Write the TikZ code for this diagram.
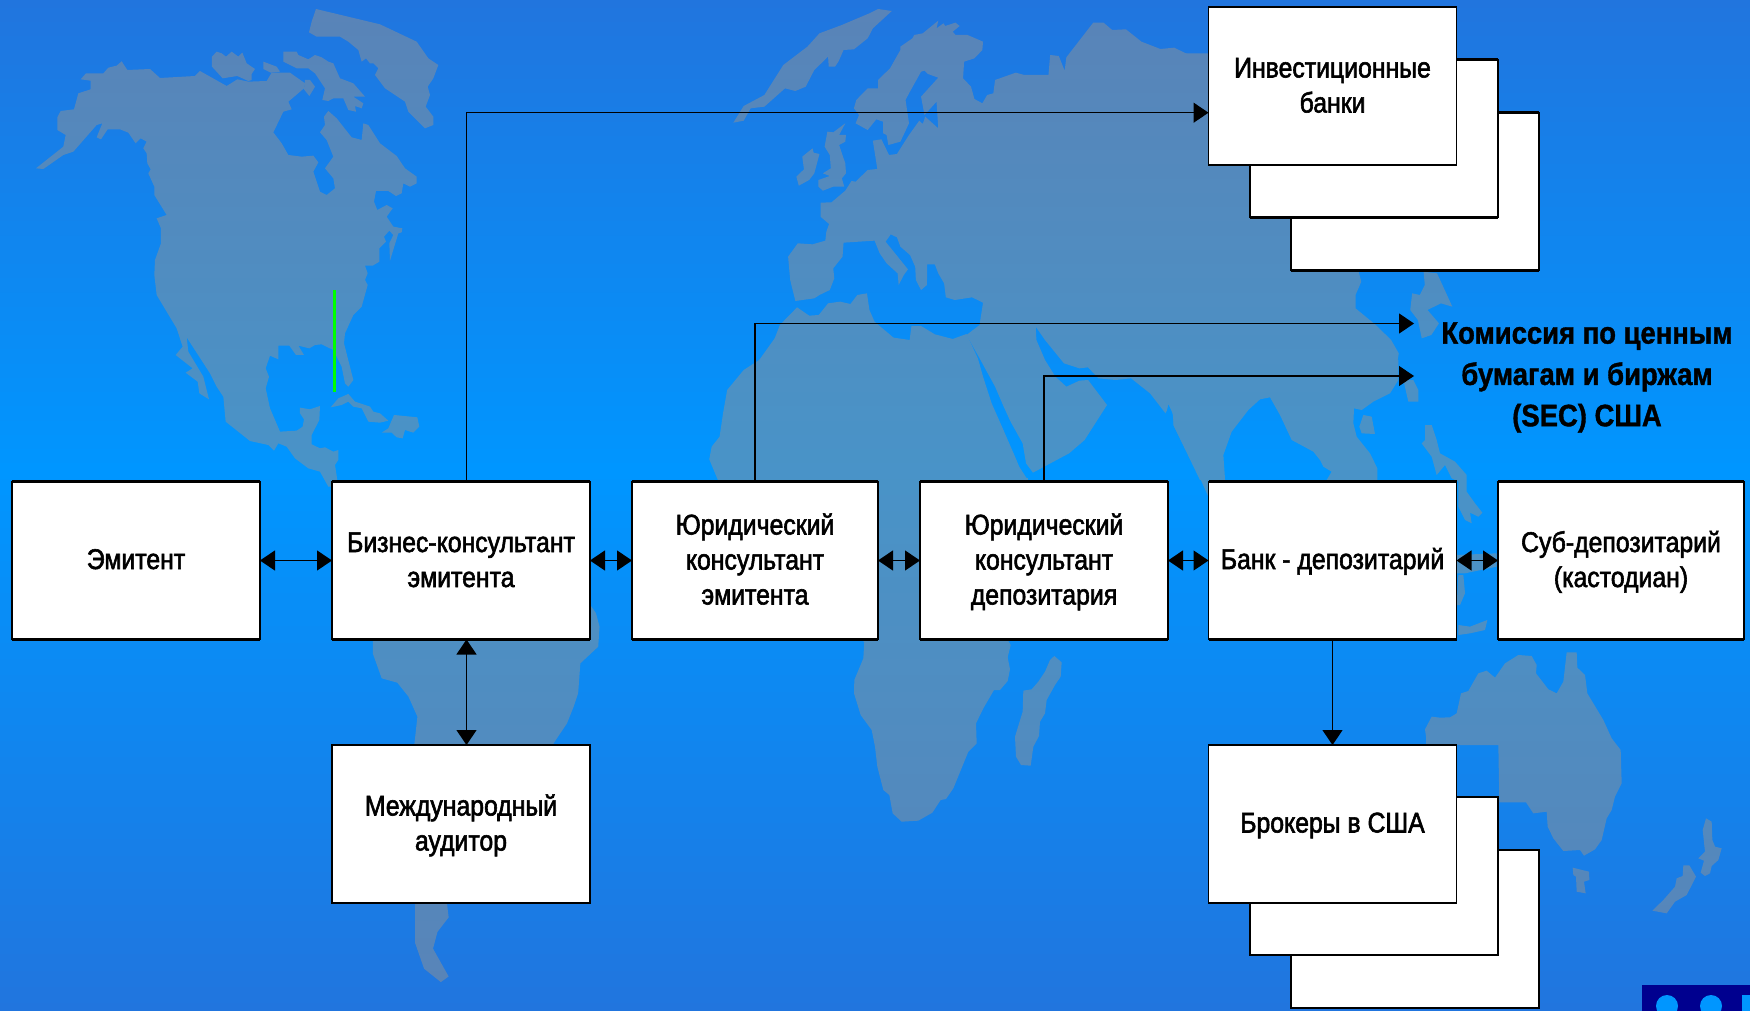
\documentclass[tikz,border=0pt]{standalone}
\usepackage{fontspec}
\setmainfont[FakeStretch=0.87,FakeBold=2]{Liberation Sans}
\newfontfamily\secfont[FakeStretch=0.885,FakeBold=1.2]{Liberation Sans Bold}
\usetikzlibrary{arrows.meta}
\definecolor{bgedge}{HTML}{2175DE}
\definecolor{bgmid}{HTML}{0096FF}
\definecolor{land}{HTML}{929292}
\definecolor{corner}{HTML}{00008F}
\newcommand{\firstline}{\rule{0pt}{27pt}}
\tikzset{
  thickedge/.style={draw=black,line width=2.6pt},
  box/.style={draw=black,fill=white,line width=1.5pt,outer sep=0pt,minimum width=#1,minimum height=158pt,inner sep=0pt,align=center,font=\fontsize{28.5}{35}\selectfont,
    append after command={(\tikzlastnode.north west) edge[thickedge] (\tikzlastnode.north east) (\tikzlastnode.south west) edge[thickedge] (\tikzlastnode.south east)}},
  box/.default=248pt,
  oneline/.style={execute at begin node={\rule{0pt}{31pt}},execute at end node={\rule[-14pt]{0pt}{14pt}}},
  manyline/.style={execute at end node={\rule[-9pt]{0pt}{9pt}}},
  conn/.style={draw=black,line width=1.2pt},
  two/.style={conn,{Triangle[length=15pt,width=20pt]}-{Triangle[length=15pt,width=20pt]}},
  one/.style={conn,-{Triangle[length=15pt,width=20pt]}},
}
\begin{document}
\begin{tikzpicture}[x=1pt,y=-1pt]
\useasboundingbox (0,0) rectangle (1750,1011);
\shade[top color=bgedge,bottom color=bgmid] (0,0) rectangle (1750,470);
\shade[top color=bgmid,bottom color=bgedge] (0,470) rectangle (1750,1011);
\begin{scope}[transparency group,opacity=.5]
\begin{scope}[x=.33333pt,y=-.33333pt]
\fill[land] (108,505)--(190,440)--(197,405)--(172,390)--(172,352)--(182,333)--(222,328)--(235,280)--(272,268)--(272,242)--(242,238)--(258,220)--(310,220)--(325,203)--(350,197)--(365,184)--(382,210)--(450,207)--(480,234)--(585,228)--(600,213)--(680,258)--(712,238)--(745,245)--(800,243)--(815,218)--(870,218)--(915,250)--(912,265)--(865,305)--(875,328)--(850,335)--(820,397)--(845,430)--(865,465)--(905,470)--(940,467)--(955,487)--(940,515)--(960,575)--(980,585)--(1005,565)--(1000,535)--(975,505)--(1000,470)--(980,420)--(960,397)--(975,375)--(972,350)--(985,333)--(1010,355)--(1055,412)--(1085,420)--(1090,370)--(1105,375)--(1140,430)--(1190,468)--(1215,505)--(1250,530)--(1250,550)--(1230,560)--(1210,550)--(1205,580)--(1188,588)--(1165,573)--(1128,573)--(1122,605)--(1132,630)--(1160,615)--(1178,625)--(1160,650)--(1180,680)--(1207,685)--(1205,697)--(1195,700)--(1170,782)--(1168,730)--(1180,705)--(1168,692)--(1152,710)--(1158,725)--(1138,745)--(1138,785)--(1118,797)--(1095,797)--(1103,820)--(1095,840)--(1103,855)--(1085,920)--(1060,945)--(1035,1000)--(1032,1030)--(1060,1140)--(1045,1160)--(1035,1150)--(1025,1100)--(1000,1050)--(965,1033)--(945,1035)--(928,1045)--(895,1037)--(912,1065)--(888,1065)--(868,1037)--(835,1037)--(835,1078)--(810,1067)--(797,1105)--(807,1130)--(797,1165)--(810,1225)--(840,1295)--(890,1292)--(908,1280)--(912,1258)--(900,1240)--(900,1223)--(930,1228)--(960,1218)--(958,1260)--(935,1305)--(935,1333)--(960,1345)--(975,1342)--(1000,1355)--(1015,1350)--(1015,1380)--(1005,1395)--(1015,1460)--(985,1460)--(960,1415)--(925,1405)--(885,1375)--(860,1340)--(835,1330)--(822,1352)--(805,1335)--(750,1323)--(677,1265)--(670,1190)--(650,1160)--(630,1120)--(560,1012)--(565,1055)--(610,1130)--(627,1198)--(598,1180)--(593,1145)--(557,1118)--(578,1105)--(527,1065)--(548,1040)--(530,985)--(470,885)--(463,825)--(465,780)--(483,730)--(483,685)--(470,655)--(500,645)--(463,585)--(463,560)--(445,520)--(452,508)--(442,490)--(440,460)--(430,445)--(440,425)--(422,415)--(407,430)--(385,398)--(360,388)--(323,388)--(303,418)--(290,412)--(307,370)--(290,375)--(220,455)--(190,465)--(130,507)--cycle;
\fill[land] (636,170)--(650,155)--(665,160)--(678,170)--(695,155)--(715,170)--(727,158)--(740,190)--(765,207)--(755,222)--(755,240)--(745,243)--(712,228)--(668,235)--(636,200)--cycle;
\fill[land] (850,155)--(890,155)--(895,165)--(925,178)--(945,165)--(965,172)--(985,185)--(1000,190)--(1020,235)--(1060,250)--(1095,290)--(1060,290)--(1090,310)--(1085,325)--(1065,318)--(1068,335)--(1045,330)--(1030,295)--(1000,295)--(985,303)--(967,300)--(975,265)--(945,220)--(925,205)--(890,205)--(850,185)--cycle;
\fill[land] (790,185)--(830,200)--(840,215)--(812,218)--(790,207)--cycle;
\fill[land] (915,240)--(930,240)--(945,260)--(928,288)--(912,268)--cycle;
\fill[land] (948,27)--(1140,73)--(1250,125)--(1285,175)--(1315,195)--(1300,235)--(1283,260)--(1290,285)--(1277,320)--(1300,350)--(1300,375)--(1275,385)--(1250,360)--(1225,335)--(1215,305)--(1155,265)--(1125,225)--(1135,205)--(1120,190)--(1110,190)--(1098,175)--(1085,185)--(1075,150)--(1045,125)--(1020,110)--(950,110)--(927,97)--(935,65)--cycle;
\fill[land] (992,1222)--(1015,1195)--(1045,1182)--(1065,1205)--(1110,1220)--(1120,1235)--(1140,1240)--(1165,1262)--(1140,1268)--(1105,1265)--(1085,1225)--(1060,1220)--(1045,1205)--(1025,1215)--cycle;
\fill[land] (1145,1298)--(1165,1285)--(1182,1245)--(1252,1252)--(1258,1280)--(1240,1298)--(1215,1290)--(1208,1315)--(1190,1312)--(1175,1298)--cycle;
\end{scope}
\begin{scope}[xshift=680pt,x=.34435pt,y=-.33333pt]
\fill[land] (510,370)--(520,345)--(505,325)--(512,300)--(545,265)--(575,265)--(575,240)--(610,205)--(640,150)--(640,140)--(675,115)--(680,105)--(705,100)--(750,62)--(745,85)--(765,70)--(770,78)--(800,68)--(812,78)--(792,95)--(800,105)--(835,105)--(880,125)--(878,150)--(855,175)--(825,185)--(822,235)--(845,260)--(855,297)--(878,310)--(892,285)--(910,280)--(915,240)--(975,218)--(1000,225)--(1070,225)--(1075,165)--(1100,168)--(1117,212)--(1122,172)--(1200,68)--(1230,68)--(1255,90)--(1295,88)--(1340,125)--(1395,147)--(1435,143)--(1485,168)--(1568,168)--(1568,1440)--(1510,1440)--(1435,1280)--(1430,1235)--(1418,1212)--(1410,1240)--(1365,1180)--(1310,1135)--(1265,1140)--(1215,1135)--(1185,1102)--(1160,1105)--(1115,1090)--(1060,1020)--(1033,980)--(1035,1020)--(1060,1080)--(1090,1130)--(1122,1160)--(1160,1142)--(1185,1140)--(1240,1215)--(1175,1320)--(1130,1360)--(1025,1418)--(1005,1390)--(995,1330)--(960,1265)--(940,1220)--(915,1160)--(870,1075)--(832,1005)--(870,975)--(880,908)--(848,892)--(798,900)--(772,892)--(767,850)--(750,820)--(740,793)--(718,793)--(717,855)--(700,870)--(685,840)--(683,800)--(668,765)--(640,740)--(630,712)--(612,703)--(597,725)--(640,780)--(662,808)--(650,825)--(635,855)--(632,820)--(600,790)--(580,760)--(565,722)--(475,728)--(472,770)--(445,805)--(448,835)--(435,870)--(405,885)--(390,895)--(335,903)--(320,840)--(314,770)--(342,730)--(385,733)--(422,722)--(425,695)--(433,672)--(408,650)--(408,608)--(440,607)--(480,572)--(498,543)--(510,545)--(545,510)--(573,507)--(560,422)--(585,418)--(607,465)--(630,462)--(665,405)--(695,362)--(705,372)--(712,350)--(750,385)--(745,305)--(710,345)--(700,290)--(750,233)--(720,222)--(710,212)--(700,215)--(665,280)--(655,300)--(665,370)--(640,425)--(605,435)--(600,405)--(590,400)--(590,365)--(570,358)--(545,390)--cycle;
\fill[land] (155,368)--(185,318)--(245,285)--(300,195)--(370,140)--(405,100)--(470,75)--(550,40)--(575,27)--(615,33)--(560,85)--(545,115)--(505,148)--(475,150)--(460,185)--(450,200)--(432,200)--(430,170)--(390,210)--(365,260)--(335,273)--(305,265)--(245,320)--(205,325)--(185,362)--cycle;
\fill[land] (420,440)--(428,395)--(445,397)--(480,370)--(462,405)--(482,405)--(480,425)--(462,435)--(480,490)--(482,520)--(470,535)--(477,560)--(445,560)--(415,572)--(402,560)--(402,540)--(435,528)--(415,520)--(438,505)--(435,465)--cycle;
\fill[land] (355,470)--(385,445)--(388,458)--(405,462)--(390,520)--(375,540)--(345,557)--(338,530)--(360,508)--cycle;
\fill[land] (340,922)--(375,947)--(403,945)--(430,910)--(465,905)--(495,912)--(515,885)--(543,880)--(550,930)--(565,965)--(620,1013)--(667,1020)--(672,978)--(700,978)--(740,1003)--(792,1017)--(832,1002)--(865,1075)--(880,1130)--(905,1210)--(935,1280)--(975,1375)--(985,1400)--(1010,1440)--(110,1440)--(85,1378)--(92,1340)--(115,1310)--(125,1240)--(137,1170)--(185,1110)--(230,1080)--(275,1015)--(290,975)--cycle;
\end{scope}
\fill[land] (718,478)--(1028,478)--(1008,642)--(864,642)--cycle;
\begin{scope}[xshift=820pt,yshift=-630pt,x=.33333pt,y=-.33333pt]
\fill[land] (133,33)--(130,85)--(103,150)--(102,190)--(122,255)--(155,300)--(165,350)--(172,410)--(190,480)--(208,495)--(218,550)--(245,575)--(295,572)--(337,548)--(362,510)--(378,507)--(400,475)--(445,365)--(470,340)--(468,280)--(490,235)--(522,180)--(540,180)--(563,153)--(570,118)--(563,82)--(572,45)--(565,33)--cycle;
\fill[land] (610,182)--(635,178)--(655,155)--(675,125)--(690,90)--(703,78)--(725,97)--(722,140)--(705,165)--(680,210)--(675,250)--(660,275)--(657,318)--(640,350)--(632,407)--(603,405)--(588,380)--(585,320)--(608,245)--cycle;
\end{scope}
\begin{scope}[yshift=-460pt,x=.44643pt,y=-.33333pt]
\fill[land] (835,400)--(835,580)--(855,655)--(890,668)--(915,710)--(935,770)--(928,855)--(928,1330)--(1240,1330)--(1240,850)--(1270,790)--(1285,740)--(1295,700)--(1300,610)--(1340,560)--(1343,500)--(1335,460)--(1325,440)--(1300,400)--cycle;
\end{scope}
\begin{scope}[x=1.116pt,y=-1.116pt]
\fill[land] (372,805)--(400,805)--(402,822)--(392,835)--(388,850)--(402,875)--(395,880)--(380,868)--(372,845)--cycle;
\end{scope}
\begin{scope}[xshift=1150pt,x=.3827pt,y=-.33333pt]
\fill[land] (0,160)--(545,160)--(545,815)--(552,845)--(537,885)--(537,925)--(590,975)--(630,1020)--(650,1060)--(640,1130)--(0,1130)--cycle;
\fill[land] (715,815)--(750,820)--(790,920)--(760,910)--(725,930)--(755,970)--(735,1005)--(710,1015)--(700,960)--(680,930)--(685,880)--(705,885)--(718,855)--cycle;
\end{scope}
\begin{scope}[xshift=1150pt,yshift=-360pt,x=.33333pt,y=-.33333pt]
\fill[land] (0,0)--(745,0)--(745,60)--(720,100)--(670,125)--(635,150)--(612,145)--(610,190)--(620,230)--(660,280)--(682,325)--(682,400)--(530,400)--(530,360)--(545,335)--(520,320)--(510,300)--(490,275)--(425,240)--(390,165)--(360,112)--(330,118)--(295,150)--(245,215)--(220,285)--(228,400)--(175,410)--(130,310)--(70,195)--(70,165)--(55,130)--(50,155)--(0,95)--cycle;
\fill[land] (760,60)--(790,60)--(805,90)--(805,125)--(775,125)--cycle;
\fill[land] (640,165)--(665,170)--(675,222)--(635,220)--(628,200)--cycle;
\fill[land] (825,195)--(845,195)--(860,240)--(870,280)--(915,305)--(950,345)--(950,395)--(975,430)--(997,458)--(985,470)--(960,458)--(965,490)--(945,480)--(925,440)--(925,365)--(905,355)--(885,315)--(860,345)--(845,290)--(815,250)--(825,240)--cycle;
\fill[land] (920,585)--(1040,580)--(1040,620)--(945,640)--(920,640)--cycle;
\fill[land] (925,645)--(940,645)--(945,700)--(930,735)--(920,735)--cycle;
\fill[land] (925,795)--(960,800)--(1012,780)--(1005,810)--(960,820)--(925,825)--cycle;
\end{scope}
\begin{scope}[xshift=1400pt,yshift=-630pt,x=.33333pt,y=-.33333pt]
\fill[land] (78,320)--(75,298)--(95,260)--(120,263)--(150,262)--(170,250)--(183,190)--(205,183)--(235,130)--(260,122)--(285,143)--(315,100)--(355,75)--(395,78)--(410,105)--(408,130)--(445,178)--(470,190)--(490,155)--(500,67)--(530,67)--(532,113)--(555,135)--(562,190)--(610,270)--(635,325)--(662,360)--(665,460)--(645,500)--(635,540)--(620,565)--(605,630)--(585,658)--(552,677)--(540,660)--(490,663)--(460,625)--(443,590)--(440,545)--(400,550)--(378,517)--(298,517)--(295,345)--(78,345)--cycle;
\fill[land] (518,713)--(567,725)--(568,750)--(552,755)--(557,790)--(530,785)--(528,740)--(520,735)--cycle;
\fill[land] (918,565)--(935,575)--(937,630)--(945,650)--(965,655)--(955,690)--(935,708)--(930,730)--(915,738)--(902,728)--(912,692)--(895,685)--(915,665)--(908,600)--cycle;
\fill[land] (850,706)--(868,706)--(888,740)--(860,795)--(825,815)--(800,850)--(757,842)--(790,810)--(825,770)--(830,745)--(848,738)--cycle;
\end{scope}
\end{scope}
% green mark and corner ornament
\fill[green] (333.2,290) rectangle (335.5,392);
\fill[corner] (1642,985) rectangle (1750,1011);
\fill[bgmid] (1667,1006) circle (11);
\fill[bgmid] (1711,1006) circle (11);
\fill[bgmid] (1742,995) rectangle (1750,1011);
% helpers
\coordinate (vx) at (466.5,0);
\coordinate (ih) at (0,112.7);
\coordinate (sec1) at (1414,323.5);
\coordinate (sec2) at (1414,376);
% boxes
\node[box,oneline] (emit) at (136,560.5) {Эмитент};
\node[box=258pt,manyline] (biz) at (461,560.5) {\firstline Бизнес-консультант\\эмитента};
\node[box=246pt,manyline] (jur1) at (755,560.5) {\firstline Юридический\\консультант\\эмитента};
\node[box,manyline] (jur2) at (1044,560.5) {\firstline Юридический\\консультант\\депозитария};
\node[box,oneline] (bank) at (1332.5,560.5) {Банк - депозитарий};
\node[box=246pt,manyline] (sub) at (1621,560.5) {\firstline Суб-депозитарий\\(кастодиан)};
\node[box=258pt,manyline] (aud) at (461,824) {\firstline Международный\\аудитор};
\node[box] (inv3) at (1415,191.5) {};
\node[box] (inv2) at (1374,138.5) {};
\node[box,manyline] (inv) at (1332.5,86) {\firstline Инвестиционные\\банки};
\node[box] (brok3) at (1415,929) {};
\node[box] (brok2) at (1374,876) {};
\node[box,oneline] (brok) at (1332.5,824) {Брокеры в США};
\node[align=center,inner sep=0pt,font=\secfont\fontsize{31}{41.3}\selectfont] (sec) at (1587,377.5) {Комиссия по ценным\\бумагам и биржам\\(SEC) США};
% connectors
\draw[two] (emit.east) -- (biz.west);
\draw[two] (biz.east) -- (jur1.west);
\draw[two] (jur1.east) -- (jur2.west);
\draw[two] (jur2.east) -- (bank.west);
\draw[two] (bank.east) -- (sub.west);
\draw[two] (biz.south -| vx) -- (aud.north -| vx);
\draw[one] (bank.south) -- (brok.north);
\draw[one] (biz.north -| vx) |- (inv.west |- ih);
\draw[one] (jur1.north) |- (sec1);
\draw[one] (jur2.north) |- (sec2);
\end{tikzpicture}
\end{document}
